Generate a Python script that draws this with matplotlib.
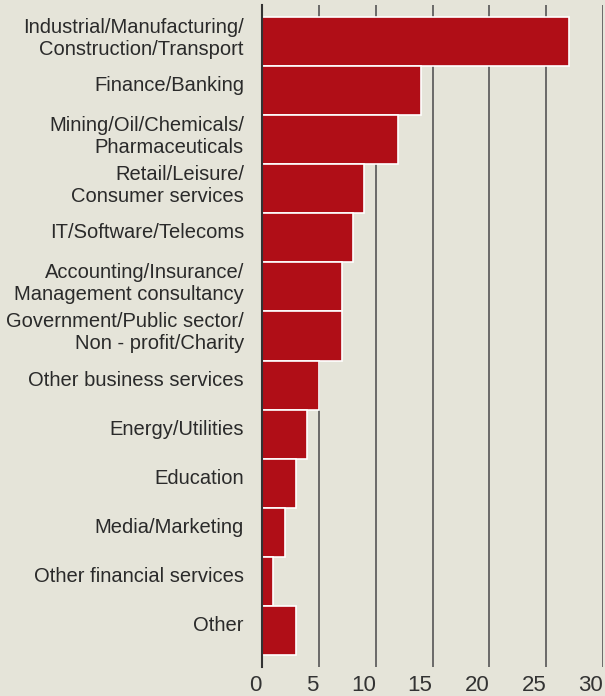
import matplotlib.pyplot as plt
from matplotlib.transforms import ScaledTranslation

# データ
sectors = [
    'Industrial/Manufacturing/\nConstruction/Transport',
    'Finance/Banking',
    'Mining/Oil/Chemicals/\nPharmaceuticals',
    'Retail/Leisure/\nConsumer services',
    'IT/Software/Telecoms',
    'Accounting/Insurance/\nManagement consultancy',
    'Government/Public sector/\nNon - profit/Charity',
    'Other business services',
    'Energy/Utilities',
    'Education',
    'Media/Marketing',
    'Other financial services',
    'Other',
]
values = [27, 14, 12, 9, 8, 7, 7, 5, 4, 3, 2, 1, 3]
xticks = [0, 5, 10, 15, 20, 25, 30]

plt.rcParams['font.family'] = ['Liberation Sans', 'DejaVu Sans']

bg = '#e5e4d9'
fig = plt.figure(figsize=(6.05, 6.96), dpi=100, facecolor=bg)
ax = fig.add_axes([262 / 605, 29 / 696, 341 / 605, 662 / 696], facecolor=bg)

y = list(range(len(sectors)))
ax.barh(y, values, height=1.0, color='#b00e17', edgecolor='white', linewidth=1.2, zorder=3)

ax.set_xlim(0, 30)
ax.set_ylim(len(sectors) - 0.25, -0.75)
ax.set_xticks(xticks)
ax.set_yticks(y)
ax.set_yticklabels(sectors, fontsize=14.5, color='#2a2a2a', linespacing=1.2)
ax.tick_params(axis='x', length=0, labelsize=16, labelcolor='#333333', pad=6)
ax.tick_params(axis='y', length=0, pad=13)

# 目盛りラベルは線の左側に揃える
for lab in ax.get_xticklabels():
    lab.set_ha('right')
# 項目ラベルは少し上に寄せる
up = ScaledTranslation(0, 5 / 72, fig.dpi_scale_trans)
for lab in ax.get_yticklabels():
    lab.set_transform(lab.get_transform() + up)

ax.grid(axis='x', color='#555555', linewidth=1.2, zorder=1)
for s in ['top', 'right', 'bottom']:
    ax.spines[s].set_visible(False)
ax.spines['left'].set_color('#333333')
ax.spines['left'].set_linewidth(1.5)
ax.spines['left'].set_zorder(4)

fig.savefig('out.png', dpi=100, facecolor=bg)
